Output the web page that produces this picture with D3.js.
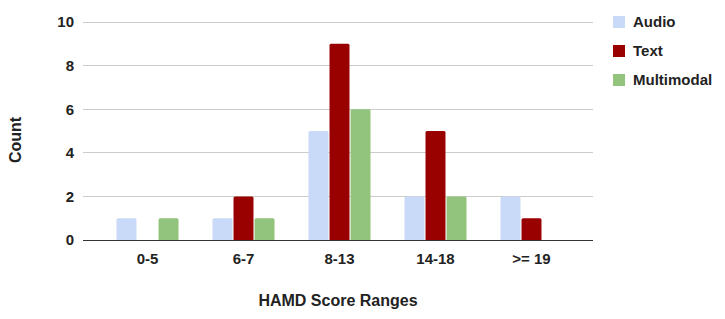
<!DOCTYPE html>
<html lang="en">
<head>
<meta charset="UTF-8">
<title>HAMD Score Ranges</title>
<script src="https://d3js.org/d3.v7.min.js"></script>
<style>
  body { margin: 0; background: #fff; }
  text { font-family: "Liberation Sans", Arial, sans-serif; font-weight: bold; fill: #222; }
</style>
</head>
<body>
<svg id="chart" width="725" height="319"></svg>
<script>
    const categories = ["0-5", "6-7", "8-13", "14-18", ">= 19"];
    const seriesNames = ["Audio", "Text", "Multimodal"];
    const audio = [1, 1, 5, 2, 2];
    const text = [0, 2, 9, 5, 1];
    const multimodal = [1, 1, 6, 2, 0];
    const yTicks = [0, 2, 4, 6, 8, 10];
    const colors = ["#c9daf8", "#990000", "#93c47d"];

    const svg = d3.select("#chart");
    const gridLeft = 83, gridRight = 593;

    const x = d3.scaleBand().domain(categories).range([99.5, 579.5]);
    const xs = d3.scaleBand().domain(seriesNames).range([x.bandwidth() / 2 - 31, x.bandwidth() / 2 + 31]).paddingInner(0.05);
    const y = d3.scaleLinear().domain([0, 10]).range([240, 22]);

    // gridlines + y labels
    svg.append("g").selectAll("line").data(yTicks).enter().append("line")
        .attr("x1", gridLeft).attr("x2", gridRight)
        .attr("y1", d => y(d)).attr("y2", d => y(d))
        .attr("stroke", d => d === 0 ? "#333" : "#ccc").attr("stroke-width", 1)
        .attr("shape-rendering", "crispEdges");

    svg.append("g").selectAll("text").data(yTicks).enter().append("text")
        .attr("x", 74).attr("y", d => y(d)).attr("dy", "0.36em")
        .attr("text-anchor", "end").attr("font-size", 15).text(d => d);

    const data = [audio, text, multimodal];
    const groups = svg.append("g").selectAll("g").data(seriesNames).enter().append("g")
        .attr("fill", (d, i) => colors[i]);

    groups.each(function(name, si) {
        d3.select(this).selectAll("path").data(categories).enter()
            .filter((c, ci) => data[si][ci] > 0)
            .append("path")
            .attr("d", (c) => {
                const ci = categories.indexOf(c);
                const x0 = x(c) + xs(name), w = xs.bandwidth();
                const y0 = y(data[si][ci]), y1 = y(0), r = 1.5;
                return `M${x0},${y1}V${y0 + r}Q${x0},${y0} ${x0 + r},${y0}H${x0 + w - r}Q${x0 + w},${y0} ${x0 + w},${y0 + r}V${y1}Z`;
            });
    });

    // redraw baseline on top
    svg.append("line").attr("x1", gridLeft).attr("x2", gridRight)
        .attr("y1", y(0)).attr("y2", y(0)).attr("stroke", "#333").attr("shape-rendering", "crispEdges");

    // x labels
    svg.append("g").selectAll("text").data(categories).enter().append("text")
        .attr("x", d => x(d) + x.bandwidth() / 2).attr("y", 264)
        .attr("text-anchor", "middle").attr("font-size", 15).text(d => d);

    svg.append("text").attr("x", 338).attr("y", 306).attr("text-anchor", "middle")
        .attr("font-size", 16).text("HAMD Score Ranges");

    svg.append("text").attr("transform", "translate(21,140) rotate(-90)")
        .attr("text-anchor", "middle").attr("font-size", 16).text("Count");

    // legend
    const legend = svg.append("g").selectAll("g").data(seriesNames).enter().append("g")
        .attr("transform", (d, i) => `translate(613,${22 + i * 29})`);
    legend.append("rect").attr("x", 0).attr("y", -6).attr("width", 12).attr("height", 12)
        .attr("fill", (d, i) => colors[i]);
    legend.append("text").attr("x", 20).attr("y", 0).attr("dy", "0.36em")
        .attr("font-size", 15).text(d => d);
</script>
</body>
</html>
